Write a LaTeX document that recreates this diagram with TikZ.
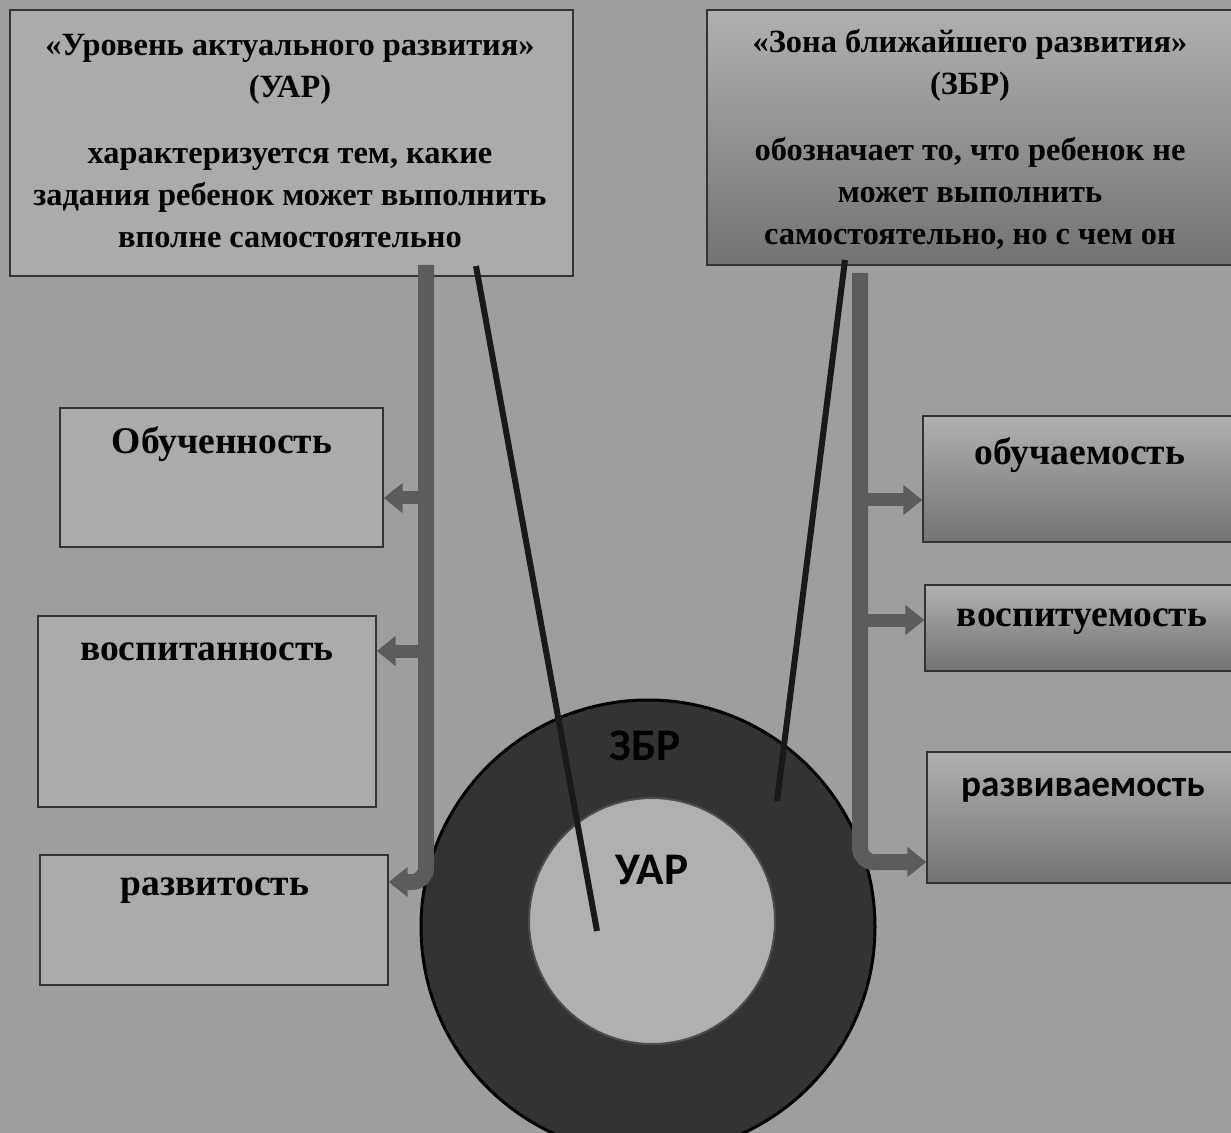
\documentclass[tikz,border=0pt]{standalone}
\usepackage{fontspec}
\setmainfont{Liberation Serif}
\newfontfamily\calibrifont{Carlito}
\usetikzlibrary{arrows.meta,positioning,fit}

\definecolor{bggray}{gray}{0.62}
\definecolor{lboxgray}{gray}{0.67}
\definecolor{rtopgray}{gray}{0.69}
\definecolor{rbotgray}{gray}{0.45}
\definecolor{bargray}{gray}{0.36}
\definecolor{ropegray}{gray}{0.10}
\definecolor{ringgray}{gray}{0.20}
\definecolor{innergray}{gray}{0.69}

\begin{document}
\begin{tikzpicture}[x=0.5pt,y=-0.5pt,
    box/.style={draw=black!80, line width=0.7pt, inner sep=0pt},
    lbox/.style={box, fill=lboxgray},
    rbox/.style={box, top color=rtopgray, bottom color=rbotgray},
    txt/.style={font=\bfseries\fontsize{16.2}{21}\selectfont, align=center, inner sep=0pt},
    lbl/.style={font=\bfseries\fontsize{18.8}{22}\selectfont, inner sep=0pt},
    stxt/.style={font=\calibrifont\bfseries\fontsize{18.6}{22}\selectfont, inner sep=0pt},
    big/.style={font=\calibrifont\bfseries\fontsize{22.6}{26}\selectfont, inner sep=0pt},
    bar/.style={draw=bargray, line width=8pt},
    arr/.style={draw=bargray, line width=6.5pt, -{Triangle[length=9.5pt,width=14.5pt]}},
    rope/.style={draw=ropegray, line width=3pt}]

    % Background
    \useasboundingbox (0,0) rectangle (1231,1133);
    \clip (0,0) rectangle (1231,1133);
    \fill[bggray] (0,0) rectangle (1231,1133);

    % Top boxes
    \node[lbox, fit={(10,10) (573,276)}] (uarbox) {};
    \node[rbox, fit={(707,10) (1240,265)}] (zbrbox) {};

    % Left boxes
    \node[lbox, fit={(60,408) (383,547)}] (obuch) {};
    \node[lbox, fit={(38,616) (376,807)}] (vosp) {};
    \node[lbox, fit={(40,855) (388,985)}] (razv) {};

    % Right boxes
    \node[rbox, fit={(923,416) (1240,542)}] (obucm) {};
    \node[rbox, fit={(925,585) (1240,671)}] (vospm) {};
    \node[rbox, fit={(927,752) (1240,883)}] (razvm) {};

    % Circles
    \node[circle, draw=black, line width=1.5pt, fill=ringgray, minimum size=227pt, inner sep=0pt] (zbr) at (648,927) {};
    \node[circle, draw=black!70, line width=1pt, fill=innergray, minimum size=123pt, inner sep=0pt] (uar) at (652,921) {};

    % Bars with arrows
    \coordinate (lbtop) at (426,265);
    \coordinate (lb1) at (426,498);
    \coordinate (lb2) at (426,651);
    \coordinate (lb3) at (426,882);
    \draw[bar, rounded corners=7pt, -{Triangle[length=9.5pt,width=14.5pt]}] (lbtop) -- (lb3) -- (lb3 -| razv.east);
    \draw[arr] (lb1) -- (lb1 -| obuch.east);
    \draw[arr] (lb2) -- (lb2 -| vosp.east);

    \coordinate (rbtop) at (860,273);
    \coordinate (rb1) at (860,500);
    \coordinate (rb2) at (860,620);
    \coordinate (rb3) at (860,862);
    \draw[bar, rounded corners=7pt, -{Triangle[length=9.5pt,width=14.5pt]}] (rbtop) -- (rb3) -- (rb3 -| razvm.west);
    \draw[arr] (rb1) -- (rb1 -| obucm.west);
    \draw[arr] (rb2) -- (rb2 -| vospm.west);

    % Ropes
    \coordinate (ropel) at (476,266);
    \coordinate (ropelend) at (597,931);
    \coordinate (roper) at (845,260);
    \coordinate (roperend) at (777,801);
    \draw[rope] (ropel) -- (ropelend);
    \draw[rope] (roper) -- (roperend);

    % Texts
    \node[txt] (uartxt) at (290,141) {«Уровень актуального развития»\\(УАР)\\[12pt]характеризуется тем, какие\\задания ребенок может выполнить\\вполне самостоятельно};
    \node[txt] (zbrtxt) at (970,139) {«Зона ближайшего развития»\\(ЗБР)\\[12pt]обозначает то, что ребенок не\\может выполнить\\самостоятельно, но с чем он};

    \node[lbl] (obuchtxt) at (222,444) {Обученность};
    \node[lbl] (vosptxt) at (207,652) {воспитанность};
    \node[lbl] (razvtxt) at (215,891) {развитость};

    \node[lbl] (obucmtxt) at (1080,455) {обучаемость};
    \node[lbl] (vospmtxt) at (1082,622) {воспитуемость};
    \node[stxt] (razvmtxt) at (1083,790) {развиваемость};

    \node[big, text=black] (zbrlbl) at (645,746) {ЗБР};
    \node[big] (uarlbl) at (652,870) {УАР};
\end{tikzpicture}
\end{document}
